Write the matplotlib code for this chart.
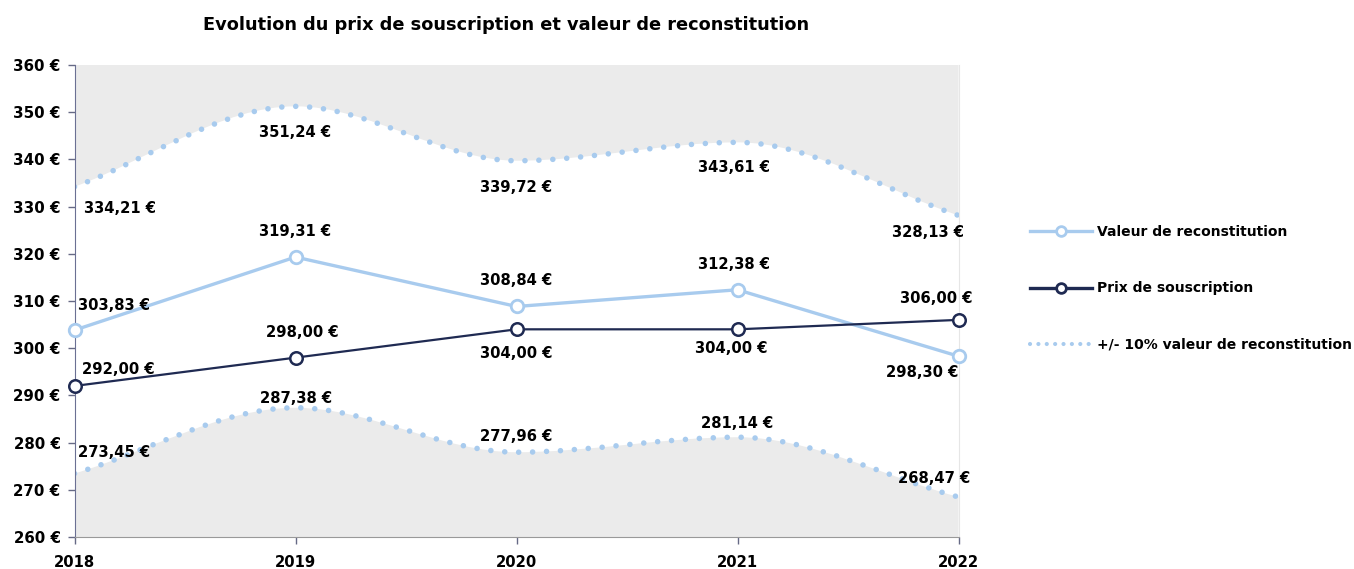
import numpy as np
import matplotlib
matplotlib.use("Agg")
import matplotlib.pyplot as plt
from matplotlib.path import Path
from matplotlib.patches import PathPatch
from matplotlib.lines import Line2D

plt.rcParams['font.family'] = ['DejaVu Sans']
plt.rcParams['font.weight'] = 'bold'

years = [2018, 2019, 2020, 2021, 2022]
valeur = [303.83, 319.31, 308.84, 312.38, 298.30]
prix = [292.00, 298.00, 304.00, 304.00, 306.00]
upper = [334.21, 351.24, 339.72, 343.61, 328.13]
lower = [273.45, 287.38, 277.96, 281.14, 268.47]

light = '#a8cbee'
navy = '#1f2a52'
grey_fill = '#ebebeb'


def fmt(v):
    return f"{v:.2f}".replace('.', ',') + " €"


def smooth_verts(x, y):
    # monotone cubic bezier segments through the points
    x = np.asarray(x, float)
    y = np.asarray(y, float)
    d = np.diff(y) / np.diff(x)
    m = np.zeros(len(x))
    m[0], m[-1] = d[0], d[-1]
    for k in range(1, len(x) - 1):
        m[k] = 0 if d[k - 1] * d[k] <= 0 else (d[k - 1] + d[k]) / 2
    verts = [(x[0], y[0])]
    codes = [Path.MOVETO]
    for k in range(len(x) - 1):
        h = x[k + 1] - x[k]
        verts += [(x[k] + h / 3, y[k] + m[k] * h / 3),
                  (x[k + 1] - h / 3, y[k + 1] - m[k + 1] * h / 3),
                  (x[k + 1], y[k + 1])]
        codes += [Path.CURVE4] * 3
    return verts, codes


fig = plt.figure(figsize=(13.54, 5.69), dpi=100)
ax = fig.add_axes([74.5 / 1354, 32 / 569, 884 / 1354, 472 / 569])
ax.set_xlim(2018, 2022)
ax.set_ylim(260, 360)

# grey bands outside the +/- 10% corridor
for band, edge in [(upper, 360), (lower, 260)]:
    v, c = smooth_verts(years, band)
    v = v + [(years[-1], edge), (years[0], edge), v[0]]
    c = c + [Path.LINETO, Path.LINETO, Path.CLOSEPOLY]
    ax.add_patch(PathPatch(Path(v, c), facecolor=grey_fill, edgecolor='none', zorder=0))

    v, c = smooth_verts(years, band)
    p = PathPatch(Path(v, c), fill=False, edgecolor=light, lw=4.0,
                  linestyle=(0, (0.01, 2.5)), zorder=2)
    p.set_capstyle('round')
    ax.add_patch(p)

ax.plot(years, valeur, color=light, lw=2.4, marker='o', ms=9, mfc='white',
        mec=light, mew=2, zorder=4, clip_on=False)
ax.plot(years, prix, color=navy, lw=1.6, marker='o', ms=9, mfc='white',
        mec=navy, mew=1.8, zorder=5, clip_on=False)

# data labels: (dx, dy) in pixels from the point to the text baseline
lab_kw = dict(textcoords='offset pixels', fontsize=10.6, fontweight='bold',
              va='baseline', color='black', zorder=6)
val_off = [(4, 20, 'left'), (0, 21, 'center'), (0, 21, 'center'), (-4, 21, 'center'), (0, -21, 'right')]
prix_off = [(7, 12, 'left'), (7, 21, 'center'), (0, -29, 'center'), (-6, -24, 'center'), (14, 17, 'right')]
up_off = [(9, -26, 'left'), (0, -31, 'center'), (0, -31, 'center'), (-4, -30, 'center'), (5, -22, 'right')]
low_off = [(3, 17, 'left'), (1, 5, 'center'), (0, 11, 'center'), (0, 9, 'center'), (12, 14, 'right')]
for series, offs in [(valeur, val_off), (prix, prix_off), (upper, up_off), (lower, low_off)]:
    for x, y, (dx, dy, ha) in zip(years, series, offs):
        ax.annotate(fmt(y), (x, y), xytext=(dx, dy), ha=ha, **lab_kw)

ax.set_xticks(years)
ax.set_xticklabels([str(y) for y in years])
ax.set_yticks(range(260, 361, 10))
ax.set_yticklabels([f"{v} €" for v in range(260, 361, 10)])
ax.tick_params(axis='both', length=5, width=1, colors='#666a85', labelcolor='black')
ax.tick_params(axis='x', pad=8, labelsize=10.6)
ax.tick_params(axis='y', pad=5, labelsize=10.8)
for t in ax.get_xticklabels() + ax.get_yticklabels():
    t.set_fontweight('bold')

ax.spines['top'].set_visible(False)
ax.spines['left'].set_color('#6b7093')
ax.spines['bottom'].set_color('#999999')
ax.spines['right'].set_color('#e6e6e6')
ax.set_facecolor('white')

fig.text(506 / 1354, 1 - 25 / 569, "Evolution du prix de souscription et valeur de reconstitution",
         ha='center', va='center', fontsize=12.8, fontweight='bold')

handles = [
    Line2D([], [], color=light, lw=2.4, marker='o', ms=7, mfc='white', mec=light, mew=2),
    Line2D([], [], color=navy, lw=2.4, marker='o', ms=7, mfc='white', mec=navy, mew=2),
    Line2D([], [], color=light, lw=3, linestyle=(0, (0.01, 2.0)), dash_capstyle='round'),
]
labels = ["Valeur de reconstitution", "Prix de souscription", "+/- 10% valeur de reconstitution"]
fig.legend(handles, labels, loc='upper left', bbox_to_anchor=(1030 / 1354, 1 - 225 / 569),
           frameon=False, borderpad=0, borderaxespad=0, handlelength=4.45,
           handletextpad=0.4, labelspacing=3.05, prop=dict(size=10, weight='bold'))

fig.savefig('out.png', dpi=100)
